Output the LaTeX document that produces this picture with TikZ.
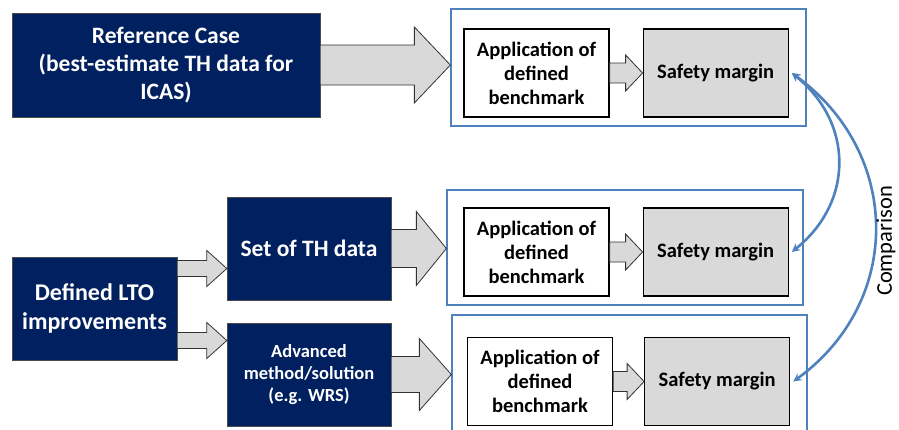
\documentclass[tikz,border=0pt]{standalone}
\usepackage{fontspec}
\setmainfont{Carlito}
\usetikzlibrary{positioning,calc}
\definecolor{navy}{RGB}{0,32,96}
\definecolor{frameblue}{RGB}{79,129,189}
\definecolor{boxgray}{RGB}{217,217,217}
% 宽箭头: 起点, 终点, 箭杆半宽, 箭头半宽, 箭头长度
\newcommand{\fatarrow}[5]{%
  \draw[blockarrow] let \p1=(#1), \p2=(#2) in
    (\x1,\y1+#3) -- (\x2-#5,\y1+#3) -- (\x2-#5,\y1+#4) -- (\x2,\y1)
    -- (\x2-#5,\y1-#4) -- (\x2-#5,\y1-#3) -- (\x1,\y1-#3) -- cycle;}
\begin{document}
\begin{tikzpicture}[x=1pt, y=-1pt, >=stealth,
    darkbox/.style={draw=black!70, fill=navy, text=white, font=\bfseries, align=center, inner sep=0pt},
    frame/.style={draw=frameblue, line width=1.3pt, inner sep=0pt},
    appbox/.style={draw=black, line width=1.2pt, fill=white, font=\bfseries\fontsize{20.5}{24}\selectfont,
      align=center, minimum width=145pt, minimum height=88pt, inner sep=0pt},
    marginbox/.style={appbox, fill=boxgray},
    blockarrow/.style={draw=black!80, fill=boxgray, line width=0.8pt, line join=miter},
    compare/.style={<->, draw=frameblue, line width=2.6pt}]
    \clip (0,0) rectangle (899,429);
    \useasboundingbox (0,0) rectangle (899,429);

    % 左侧输入框
    \node[darkbox, minimum width=308pt, minimum height=104pt, font=\bfseries\fontsize{23.5}{28}\selectfont]
      (ref) at (166,65) {Reference Case\\(best-estimate TH data for\\ICAS)};
    \node[darkbox, minimum width=165pt, minimum height=103pt, font=\bfseries\fontsize{24}{29}\selectfont]
      (lto) at (94.5,308.5) {Defined LTO\\improvements};
    \node[darkbox, minimum width=164pt, minimum height=103pt, font=\bfseries\fontsize{23.5}{28}\selectfont]
      (thset) at (309,248.5) {Set of TH data};
    \node[darkbox, minimum width=164pt, minimum height=103pt, font=\bfseries\fontsize{18.5}{22}\selectfont]
      (adv) at (309,374.5) {Advanced\\method/solution\\(e.g. WRS)};

    % 外框
    \node[frame, minimum width=355pt, minimum height=117pt] (frame1) at (628.5,67.5) {};
    \node[frame, minimum width=356pt, minimum height=115pt] (frame2) at (625,247.5) {};
    \node[frame, minimum width=355pt, minimum height=125pt] (frame3) at (629.5,377.5) {};

    % 基准与安全裕度
    \node[appbox] (app1) at (536.5,73) {Application of\\defined\\benchmark};
    \node[marginbox, right=33pt of app1] (sm1) {Safety margin};
    \node[appbox] (app2) at (536.5,252) {Application of\\defined\\benchmark};
    \node[marginbox, right=33pt of app2] (sm2) {Safety margin};
    \node[appbox] (app3) at (540,381.5) {Application of\\defined\\benchmark};
    \node[marginbox, right=31pt of app3] (sm3) {Safety margin};

    % 宽箭头
    \fatarrow{ref.east}{frame1.west}{20pt}{38pt}{36pt}
    \fatarrow{thset.east}{frame2.west}{19pt}{37pt}{30pt}
    \fatarrow{adv.east}{frame3.west}{18pt}{36pt}{32pt}
    \fatarrow{[yshift=40pt]lto.east}{thset.west}{8pt}{18pt}{20pt}
    \fatarrow{[yshift=-32pt]lto.east}{adv.west}{8pt}{18pt}{20pt}
    \fatarrow{app1.east}{sm1.west}{10pt}{18pt}{17pt}
    \fatarrow{app2.east}{sm2.west}{10pt}{18pt}{17pt}
    \fatarrow{app3.east}{sm3.west}{10pt}{18pt}{17pt}

    % 比较
    \draw[compare] ([xshift=3pt]sm1.east) .. controls +(62,50) and +(62,-50) .. ([xshift=3pt]sm2.east);
    \draw[compare] ([xshift=3pt]sm1.east) .. controls +(110,80) and +(110,-80) .. ([xshift=3pt]sm3.east);
    \node[rotate=90, font=\fontsize{22.5}{26}\selectfont] (cmp) at (886,241) {Comparison};
\end{tikzpicture}
\end{document}
